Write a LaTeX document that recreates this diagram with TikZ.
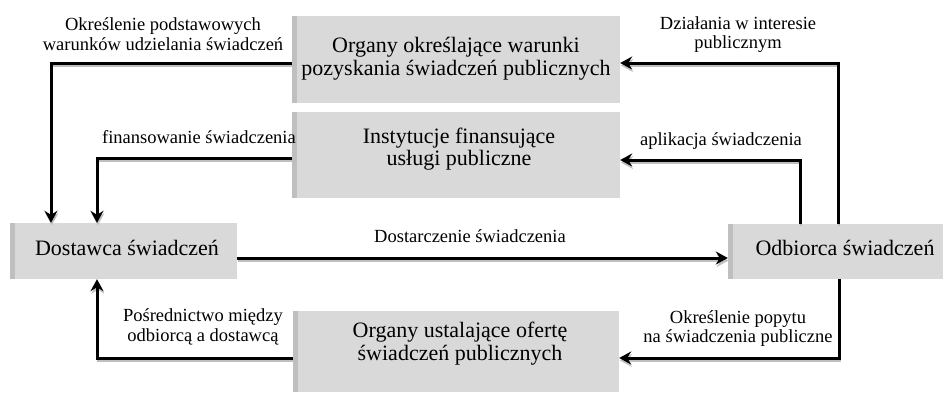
\documentclass[tikz,border=0pt]{standalone}
\usepackage{fontspec}
\setmainfont{LiberationSerif}[Extension=.ttf, UprightFont=*-Regular, BoldFont=*-Bold]
\usetikzlibrary{arrows.meta}
\begin{document}
\begin{tikzpicture}[x=1pt,y=-1pt,
  box/.style={rectangle, fill=gray!30, draw=none, inner sep=0pt,
    path picture={\fill[gray!50] (path picture bounding box.north west) rectangle ([xshift=5pt]path picture bounding box.south west);}},
  boxtext/.style={inner sep=0pt, align=center, font=\fontsize{22}{22.7}\selectfont},
  lbl/.style={inner sep=0pt, align=center, font=\fontsize{18.5}{19.8}\selectfont},
  conn/.style={line width=3pt, black, -{Stealth[length=12pt,width=13pt,inset=4pt]},
    preaction={draw=gray!50, line width=2pt, -{Stealth[length=12pt,width=13pt,inset=4pt]}, transform canvas={xshift=0.8pt,yshift=-2.5pt}}}
]
\useasboundingbox (0,0) rectangle (943,392);
% boxes
\node[box, minimum width=328pt, minimum height=87pt] (T) at (456,59.5) {};
\node[box, minimum width=328pt, minimum height=86pt] (F) at (456,155) {};
\node[box, minimum width=227pt, minimum height=56pt] (D) at (123.5,251) {};
\node[box, minimum width=215pt, minimum height=55pt] (O) at (835.5,251.5) {};
\node[box, minimum width=326pt, minimum height=81pt] (B) at (456,351.5) {};
% box texts
\node[boxtext] (Tt) at (456,59) {Organy określające warunki\\pozyskania świadczeń publicznych};
\node[boxtext] (Ft) at (459,149) {Instytucje finansujące\\usługi publiczne};
\node[boxtext, anchor=base] (Dt) at (127,255) {Dostawca świadczeń};
\node[boxtext, anchor=base] (Ot) at (845,255) {Odbiorca świadczeń};
\node[boxtext] (Bt) at (460,343.5) {Organy ustalające ofertę\\świadczeń publicznych};
% bend points
\coordinate (c1) at (51,63);
\coordinate (c2) at (97,158);
\coordinate (c3) at (838,63);
\coordinate (c4) at (800,160);
\coordinate (c5) at (839,358);
\coordinate (c6) at (97,358);
% connectors
\draw[conn] (T.west |- c1) -- (c1) -- (D.north -| c1);
\draw[conn] (F.west |- c2) -- (c2) -- (D.north -| c2);
\draw[conn] (D.east |- 0,258) -- (O.west |- 0,258);
\draw[conn] (O.north -| c3) -- (c3) -- (T.east |- c3);
\draw[conn] (O.north -| c4) -- (c4) -- (F.east |- c4);
\draw[conn] (O.south -| c5) -- (c5) -- (B.east |- c5);
\draw[conn] (B.west |- c6) -- (c6) -- (D.south -| c6);
% labels
\node[lbl] (l1) at (163,34) {Określenie podstawowych\\warunków udzielania świadczeń};
\node[lbl] (l2) at (738,34.5) {Działania w interesie\\publicznym};
\node[lbl, anchor=base] (l3) at (199,143) {finansowanie świadczenia};
\node[lbl, anchor=base] (l4) at (721,145) {aplikacja świadczenia};
\node[lbl, anchor=base] (l5) at (470,242) {Dostarczenie świadczenia};
\node[lbl] (l6) at (203,327) {Pośrednictwo między\\odbiorcą a dostawcą};
\node[lbl] (l7) at (738,328.5) {Określenie popytu\\na świadczenia publiczne};
\end{tikzpicture}
\end{document}
